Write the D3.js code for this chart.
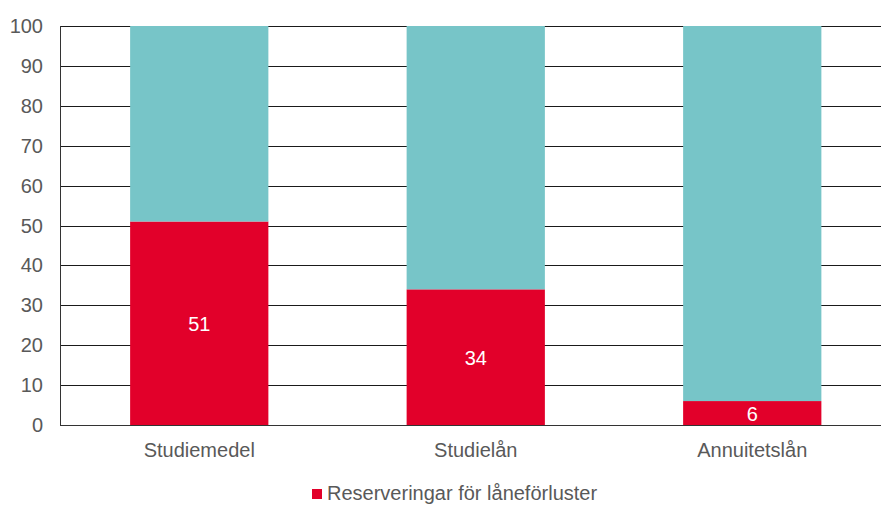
<!DOCTYPE html>
<html><head><meta charset="utf-8">
<script src="https://cdn.jsdelivr.net/npm/d3@7"></script>
<style>body{margin:0;background:#fff}svg{display:block}</style>
</head><body><svg id="c" width="881" height="505"></svg>
<script>
const categories = ["Studiemedel", "Studielån", "Annuitetslån"];
const reserves = [51, 34, 6];
const remainder = [49, 66, 94];
const yTicks = [0, 10, 20, 30, 40, 50, 60, 70, 80, 90, 100];
const legendLabel = "Reserveringar för låneförluster";

const svg = d3.select("#c");
const font = "Liberation Sans, Arial, sans-serif";
const x = d3.scaleBand().domain(categories).range([61, 890.5]).paddingInner(0.5).paddingOuter(0.25);
const y = d3.scaleLinear().domain([0, 100]).range([425, 26]);

// gridlines
svg.append("g").selectAll("line").data(yTicks).join("line")
  .attr("x1", 61).attr("x2", 881)
  .attr("y1", d => Math.round(y(d)) + 0.5).attr("y2", d => Math.round(y(d)) + 0.5)
  .attr("stroke", "#1a1a1a").attr("stroke-width", 1);

const data = categories.map((c, i) => ({c, r: reserves[i], t: remainder[i]}));
const g = svg.append("g");
g.selectAll(".red").data(data).join("rect")
  .attr("x", d => x(d.c)).attr("width", x.bandwidth())
  .attr("y", d => y(d.r)).attr("height", d => y(0) - y(d.r))
  .attr("fill", "#e2002a");
g.selectAll(".teal").data(data).join("rect")
  .attr("x", d => x(d.c)).attr("width", x.bandwidth())
  .attr("y", d => y(d.r + d.t)).attr("height", d => y(d.r) - y(d.r + d.t))
  .attr("fill", "#77c5c8");

// value labels
g.selectAll("text").data(data).join("text")
  .attr("x", d => x(d.c) + x.bandwidth() / 2)
  .attr("y", d => (y(d.r) + y(0)) / 2 + 8)
  .attr("text-anchor", "middle").attr("fill", "#fff")
  .attr("font-family", font).attr("font-size", 20)
  .text(d => d.r);

// axes lines
svg.append("line").attr("x1", 60.5).attr("x2", 60.5).attr("y1", y(100)).attr("y2", y(0) + 1)
  .attr("stroke", "#333").attr("stroke-width", 1);
svg.append("line").attr("x1", 60).attr("x2", 881).attr("y1", Math.round(y(0)) + 0.5).attr("y2", Math.round(y(0)) + 0.5)
  .attr("stroke", "#333").attr("stroke-width", 1);

// y tick labels
svg.append("g").selectAll("text").data(yTicks).join("text")
  .attr("x", 43).attr("y", d => y(d) + 7)
  .attr("text-anchor", "end").attr("fill", "#595959")
  .attr("font-family", font).attr("font-size", 20)
  .text(d => d);

// x labels
svg.append("g").selectAll("text").data(categories).join("text")
  .attr("x", d => x(d) + x.bandwidth() / 2).attr("y", 457)
  .attr("text-anchor", "middle").attr("fill", "#595959")
  .attr("font-family", font).attr("font-size", 20)
  .text(d => d);

// legend
const lg = svg.append("g");
lg.append("rect").attr("x", 312).attr("y", 489).attr("width", 10).attr("height", 10).attr("fill", "#e2002a");
lg.append("text").attr("x", 327).attr("y", 500).attr("fill", "#595959")
  .attr("font-family", font).attr("font-size", 20).text(legendLabel);
</script></body></html>
